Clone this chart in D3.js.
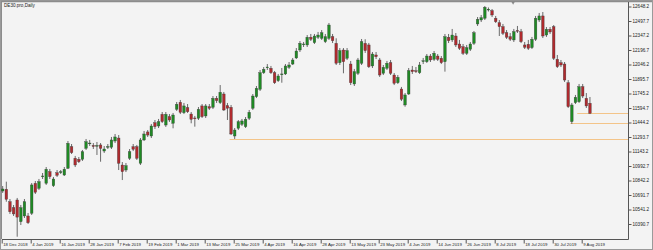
<!doctype html>
<html lang="en">
<head>
<meta charset="UTF-8">
<title>DE30.pro,Daily</title>
<style>
  html, body { margin: 0; padding: 0; background: #f3f3f3; }
  svg { display: block; }
  text { font-family: "Liberation Sans", Arial, sans-serif; fill: #222; }
</style>
</head>
<body>
<div class="container"></div>

<script src="https://d3js.org/d3.v7.min.js"></script>
<script>
  const SVG_WIDTH = 653;
  const SVG_HEIGHT = 250;
  const PLOT_LEFT = 2;
  const PLOT_RIGHT = 628;
  const PLOT_TOP = 2;
  const PLOT_BOTTOM = 239;

  // daily candles, bar 0 = 18 Dec 2018
  const opens = [
    10733,10751,10622,10560,10640,10415,10474,10474,10502,10813,
    10761,10884,10813,10934,10788,10923,10927,10899,10969,11193,
    11073,11062,11062,11176,11226,11206,11200,11211,11148,11190,
    11187,11252,11283,11003,10951,11073,11193,11193,11021,11263,
    11346,11304,11442,11408,11529,11418,11505,11436,11581,11654,
    11546,11598,11532,11491,11488,11616,11512,11608,11602,11695,
    11650,11740,11619,11602,11304,11384,11426,11401,11488,11592,
    11712,11789,11961,12015,12007,11961,11878,11942,11948,12017,
    12051,12114,12197,12256,12249,12329,12273,12329,12318,12283,
    12318,12335,12266,12065,12197,12111,12051,11844,11955,12059,
    12266,12249,12031,12145,12093,11955,12007,12065,11937,11857,
    11792,11626,11740,11989,11981,11961,12081,12075,12134,12100,
    12134,12111,12075,12329,12301,12342,12259,12231,12162,12204,
    12266,12467,12508,12526,12617,12605,12526,12480,12439,12376,
    12335,12301,12399,12387,12249,12256,12221,12308,12508,12550,
    12352,12412,12439,12100,12065,12051,11857,11453,11650,11660,
    11816,11695,11644
  ];
  const highs = [
    10785,10830,10650,10588,10661,10588,10650,10505,10816,10837,
    10858,10920,10982,10962,10879,10951,10951,10982,11252,11221,
    11097,11086,11159,11273,11263,11231,11242,11231,11200,11221,
    11294,11325,11314,11034,11024,11169,11221,11211,11283,11356,
    11366,11429,11470,11481,11553,11553,11532,11543,11657,11678,
    11647,11636,11553,11512,11605,11636,11636,11636,11719,11719,
    11833,11761,11647,11626,11387,11470,11481,11501,11574,11740,
    11823,11989,12020,12051,12031,11979,11948,12010,12051,12072,
    12114,12217,12290,12280,12352,12363,12363,12384,12404,12363,
    12477,12363,12318,12217,12217,12217,12083,12000,12114,12311,
    12308,12270,12176,12176,12114,12041,12083,12093,11958,11937,
    11813,11750,12010,12031,12020,12072,12114,12155,12155,12186,
    12155,12134,12363,12363,12415,12373,12301,12259,12249,12280,
    12394,12539,12560,12653,12638,12622,12550,12508,12467,12404,
    12373,12415,12446,12415,12280,12301,12332,12550,12581,12591,
    12435,12435,12456,12145,12093,12072,11885,11647,11730,11844,
    11844,11750,11709
  ];
  const lows = [
    10713,10622,10495,10474,10259,10380,10453,10391,10484,10702,
    10744,10858,10796,10858,10775,10879,10910,10889,10962,11117,
    10982,11024,11045,11159,11200,11169,11107,11037,11128,11169,
    11169,11231,10951,10847,10930,11055,11148,11055,11003,11252,
    11294,11283,11377,11387,11439,11398,11450,11384,11564,11532,
    11532,11543,11436,11401,11470,11491,11491,11574,11584,11647,
    11636,11564,11470,11314,11273,11366,11408,11387,11470,11574,
    11698,11771,11948,11989,11948,11844,11865,11857,11937,12000,
    12041,12103,12176,12228,12228,12290,12259,12311,12301,12269,
    12301,12269,12041,12041,11955,12093,11833,11823,11937,12041,
    12166,12010,12010,12103,11917,11937,11989,11937,11833,11844,
    11667,11608,11730,11948,11958,11948,12051,12062,12072,12083,
    12083,12051,11972,12269,12280,12228,12197,12145,12145,12186,
    12249,12446,12487,12508,12596,12539,12477,12342,12352,12311,
    12290,12280,12373,12269,12207,12197,12207,12290,12487,12321,
    12332,12363,12093,12010,12020,11865,11595,11429,11636,11647,
    11698,11595,11532
  ];
  const closes = [
    10754,10647,10518,10495,10462,10560,10622,10404,10796,10720,
    10830,10889,10959,10882,10858,10896,10933,10959,11228,11131,
    11003,11037,11141,11245,11231,11195,11206,11176,11169,11195,
    11263,11294,11021,10934,10996,11141,11166,11073,11263,11325,
    11314,11408,11401,11453,11453,11529,11470,11522,11633,11550,
    11616,11556,11477,11486,11581,11505,11616,11592,11695,11671,
    11758,11574,11592,11325,11366,11453,11460,11477,11550,11719,
    11799,11961,11996,12020,11961,11857,11927,11948,12031,12041,
    12093,12186,12266,12259,12329,12308,12342,12352,12376,12335,
    12456,12293,12059,12190,12075,12190,11857,11972,12093,12283,
    12190,12023,12155,12127,11937,12017,12059,11955,11851,11913,
    11685,11730,11982,11972,11977,12041,12085,12134,12093,12163,
    12100,12065,12335,12293,12352,12249,12214,12162,12221,12259,
    12376,12515,12532,12640,12620,12560,12490,12439,12370,12329,
    12308,12387,12396,12283,12225,12214,12308,12526,12550,12342,
    12412,12384,12111,12023,12041,11885,11608,11626,11706,11816,
    11719,11616,11540
  ];

  // date labels sit on every 8th bar
  const dateLabels = ['18 Dec 2018', '4 Jan 2019', '16 Jan 2019', '28 Jan 2019', '7 Feb 2019',
    '19 Feb 2019', '1 Mar 2019', '13 Mar 2019', '25 Mar 2019', '4 Apr 2019', '16 Apr 2019',
    '28 Apr 2019', '13 May 2019', '23 May 2019', '4 Jun 2019', '14 Jun 2019', '26 Jun 2019',
    '8 Jul 2019', '18 Jul 2019', '30 Jul 2019', '9 Aug 2019'];
  const dateLabelBars = dateLabels.map((d, i) => i * 8);

  const priceTicks = [12648.2, 12497.7, 12347.2, 12196.7, 12046.2, 11895.7, 11745.2, 11594.7,
    11444.2, 11293.7, 11143.2, 10992.7, 10842.2, 10691.7, 10541.2, 10390.7];

  // horizontal levels drawn on the chart (price, first bar)
  const levelPrices = [11278, 11440, 11543];
  const levelStartBars = [62.6, 156.6, 158.5];

  const bars = opens.map((o, i) => ({ i, o, h: highs[i], l: lows[i], c: closes[i] }));

  const svg = d3.select('.container')
    .append('svg')
    .attr('width', SVG_WIDTH)
    .attr('height', SVG_HEIGHT)

  const x = d3.scaleLinear()
    .domain([0, 160])
    .range([2.7, 582.7]);

  const y = d3.scaleLinear()
    .domain([10390.7, 12648.2])
    .range([224, 6.5]);

  // window frame
  svg.append('rect')
    .attr('x', 0.5).attr('y', 0.5)
    .attr('width', SVG_WIDTH - 1).attr('height', SVG_HEIGHT - 1)
    .attr('fill', '#f3f3f3')
    .attr('stroke', '#9a9a9a');

  svg.append('line')
    .attr('x1', 1).attr('x2', SVG_WIDTH - 1)
    .attr('y1', 1.5).attr('y2', 1.5)
    .attr('stroke', '#8c8c8c').attr('stroke-width', 1.5);

  svg.append('line')
    .attr('x1', 1.5).attr('x2', 1.5)
    .attr('y1', 1).attr('y2', PLOT_BOTTOM)
    .attr('stroke', '#8c8c8c');

  // levels
  svg.selectAll('.level')
    .data(levelPrices)
    .enter().append('line')
    .attr('class', 'level')
    .attr('x1', (d, i) => x(levelStartBars[i]))
    .attr('x2', PLOT_RIGHT)
    .attr('y1', d => Math.round(y(d)) + 0.5)
    .attr('y2', d => Math.round(y(d)) + 0.5)
    .attr('stroke', '#f3c489')
    .attr('stroke-width', 1);

  // candles
  const candle = svg.selectAll('.candle')
    .data(bars)
    .enter().append('g')
    .attr('class', 'candle');

  candle.append('line')
    .attr('x1', d => x(d.i))
    .attr('x2', d => x(d.i))
    .attr('y1', d => y(d.h))
    .attr('y2', d => y(d.l))
    .attr('stroke', '#5a5a5a')
    .attr('stroke-width', 0.9);

  candle.append('rect')
    .attr('x', d => x(d.i) - 1.3)
    .attr('y', d => y(Math.max(d.o, d.c)))
    .attr('width', 2.6)
    .attr('height', d => Math.max(0.8, Math.abs(y(d.o) - y(d.c))))
    .attr('fill', d => d.c >= d.o ? '#1f8a24' : '#b02a2e')
    .attr('stroke', '#3a3a3a')
    .attr('stroke-width', 0.35);

  // axes
  const yAxis = d3.axisRight(y)
    .tickValues(priceTicks)
    .tickSize(3)
    .tickFormat(d3.format('.1f'));

  const yAxisGroup = svg.append('g')
    .attr('transform', `translate(${PLOT_RIGHT + 0.5}, 0)`)
    .call(yAxis);

  yAxisGroup.select('.domain').remove();
  yAxisGroup.selectAll('line').attr('stroke', '#555');
  yAxisGroup.selectAll('text')
    .attr('x', 4)
    .style('font-size', '4.6px')
    .style('font-family', '"Liberation Sans", Arial, sans-serif')
    .attr('fill', '#333');

  const xAxis = d3.axisBottom(x)
    .tickValues(dateLabelBars)
    .tickSize(4)
    .tickFormat((d, i) => dateLabels[i]);

  const xAxisGroup = svg.append('g')
    .attr('transform', `translate(0, ${PLOT_BOTTOM + 0.5})`)
    .call(xAxis);

  xAxisGroup.select('.domain').remove();
  xAxisGroup.selectAll('.tick line')
    .attr('stroke', '#555')
    .attr('transform', 'translate(-1, 0)');
  xAxisGroup.selectAll('text')
    .attr('text-anchor', 'start')
    .attr('x', 0)
    .attr('y', 3)
    .style('font-size', '4.3px')
    .style('font-family', '"Liberation Sans", Arial, sans-serif')
    .attr('fill', '#333');

  // plot border: right and bottom
  svg.append('line')
    .attr('x1', PLOT_RIGHT + 0.5).attr('x2', PLOT_RIGHT + 0.5)
    .attr('y1', PLOT_TOP).attr('y2', PLOT_BOTTOM + 0.5)
    .attr('stroke', '#555');
  svg.append('line')
    .attr('x1', PLOT_LEFT).attr('x2', PLOT_RIGHT + 0.5)
    .attr('y1', PLOT_BOTTOM + 0.5).attr('y2', PLOT_BOTTOM + 0.5)
    .attr('stroke', '#555');

  // chart shift marker at the top
  svg.append('path')
    .attr('d', d3.symbol().type(d3.symbolTriangle).size(6))
    .attr('transform', `translate(${x(140.8)}, 2.5) rotate(180)`)
    .attr('fill', '#888');

  svg.append('text')
    .attr('x', 4)
    .attr('y', 7)
    .style('font-size', '4.6px')
    .text('DE30.pro,Daily');
</script>
</body>
</html>
